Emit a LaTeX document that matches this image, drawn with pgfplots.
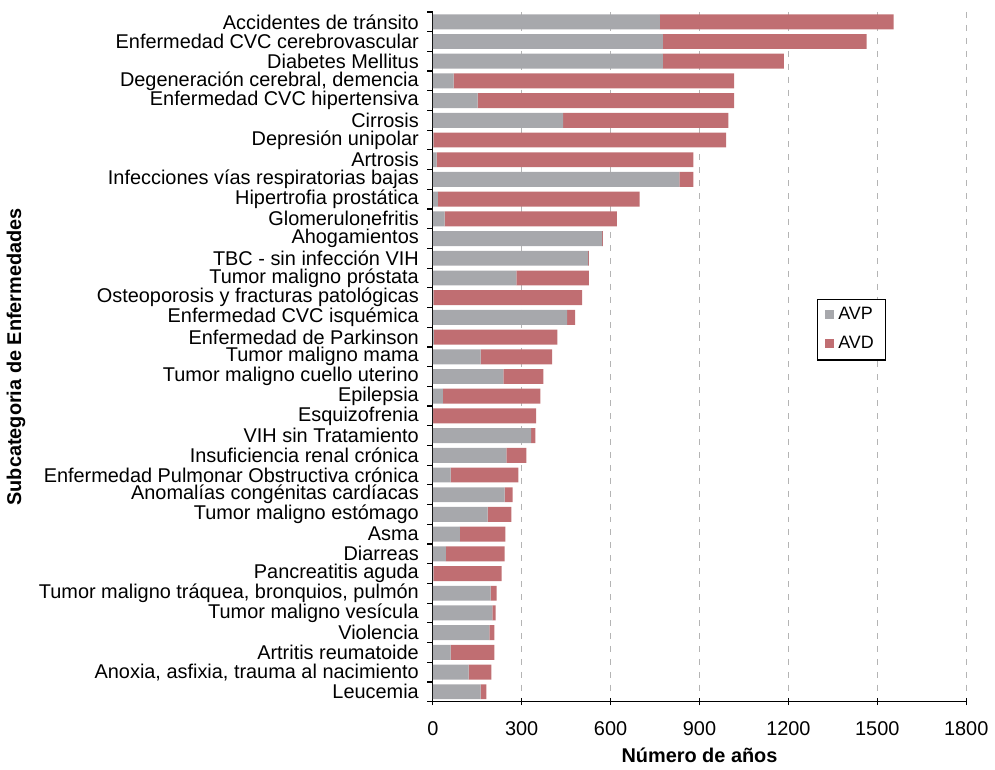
\documentclass[border=0pt]{standalone}
\usepackage{pgfplots}
\usepackage{pgfplotstable}
\pgfplotsset{compat=1.18}
\usepackage{fontspec}
\setmainfont{Liberation Sans}

\definecolor{avp}{HTML}{A7A8AC}
\definecolor{avd}{HTML}{C06E72}
\definecolor{gridgray}{HTML}{B4B4B4}

\pgfplotstableread[col sep=semicolon]{
idx;cat;AVP;AVD
0;Accidentes de tránsito;766;789
1;Enfermedad CVC cerebrovascular;776;688
2;Diabetes Mellitus;776;409
3;Degeneración cerebral, demencia;70;947
4;Enfermedad CVC hipertensiva;151;866
5;Cirrosis;440;557
6;Depresión unipolar;2;988
7;Artrosis;13;866
8;Infecciones vías respiratorias bajas;832;47
9;Hipertrofia prostática;17;681
10;Glomerulonefritis;40;581
11;Ahogamientos;571;3
12;TBC - sin infección VIH;524;3
13;Tumor maligno próstata;282;245
14;Osteoporosis y fracturas patológicas;2;502
15;Enfermedad CVC isquémica;453;27
16;Enfermedad de Parkinson;4;416
17;Tumor maligno mama;161;242
18;Tumor maligno cuello uterino;238;135
19;Epilepsia;34;329
20;Esquizofrenia;1;348
21;VIH sin Tratamiento;332;14
22;Insuficiencia renal crónica;248;68
23;Enfermedad Pulmonar Obstructiva crónica;60;229
24;Anomalías congénitas cardíacas;242;27
25;Tumor maligno estómago;185;80
26;Asma;91;154
27;Diarreas;44;198
28;Pancreatitis aguda;2;230
29;Tumor maligno tráquea, bronquios, pulmón;195;20
30;Tumor maligno vesícula;201;11
31;Violencia;191;17
32;Artritis reumatoide;60;148
33;Anoxia, asfixia, trauma al nacimiento;121;77
34;Leucemia;161;20
}\data

\begin{document}
\begin{tikzpicture}
\begin{axis}[
    scale only axis,
    width=268pt, height=346.5pt,
    xbar stacked,
    bar width=7.5pt,
    xmin=0, xmax=1800,
    ymin=-0.5, ymax=34.5,
    y dir=reverse,
    axis x line*=bottom,
    axis y line*=left,
    axis line style={black, line width=0.7pt},
    xtick={0,300,...,1800},
    xtick align=center,
    major tick length=3.5pt,
    xtick style={black, line width=0.6pt},
    xmajorgrids=true,
    grid style={gridgray, line width=0.7pt, dash pattern=on 3pt off 3.5pt},
    ytick={0,...,34},
    yticklabels from table={\data}{cat},
    major y tick style={draw=none},
    minor ytick={-0.5,0.5,...,34.5},
    minor y tick style={black, line width=0.6pt},
    minor tick length=2.8pt,
    ytick align=outside,
    tick label style={font=\fontsize{10}{12}\selectfont},
    xticklabel style={yshift=-5pt},
    /pgf/number format/assume math mode=true,
    /pgf/number format/1000 sep={},
    scaled x ticks=false,
    xlabel={\textbf{Número de años}},
    ylabel={\textbf{Subcategoria de Enfermedades}},
    label style={font=\fontsize{10}{12}\selectfont},
    xlabel style={yshift=1pt},
    legend style={at={(0.72,0.584)}, anchor=north west, draw=black,
        line width=0.6pt, font=\fontsize{9}{11}\selectfont,
        row sep=3pt, inner xsep=4pt, inner ysep=2pt},
    legend cell align=left,
    legend image code/.code={\fill[#1] (0pt,-2pt) rectangle (4.5pt,2.5pt);},
]
\addplot[fill=avp, draw=none] table[x=AVP, y=idx] {\data};
\addplot[fill=avd, draw=none] table[x=AVD, y=idx] {\data};
\legend{AVP, AVD}
\end{axis}
\path ([yshift=6pt]current axis.north);
\end{tikzpicture}
\end{document}
